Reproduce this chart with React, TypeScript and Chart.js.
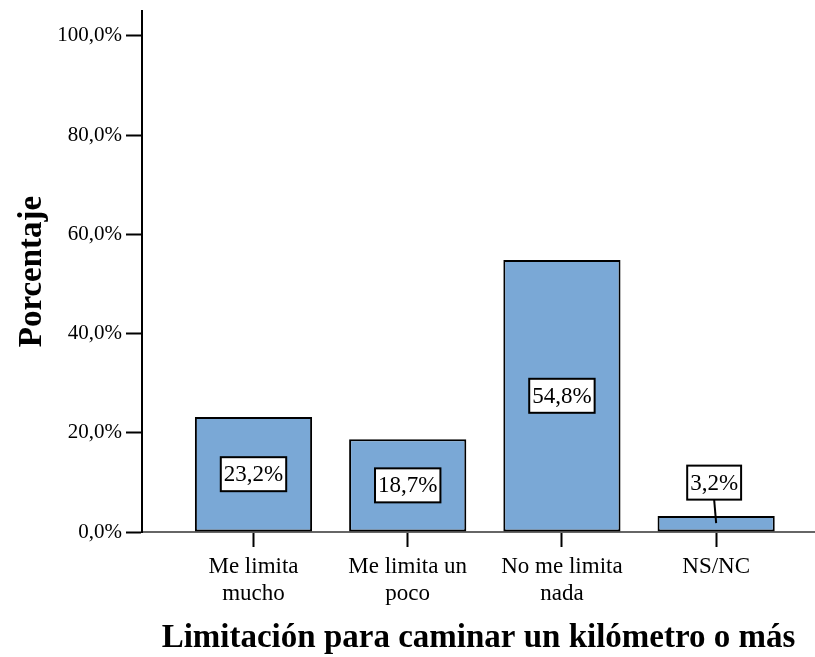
import React, { useEffect, useRef } from 'react';
import { Chart, registerables } from 'chart.js';

Chart.register(...registerables);

const categories: string[][] = [
  ['Me limita', 'mucho'],
  ['Me limita un', 'poco'],
  ['No me limita', 'nada'],
  ['NS/NC'],
];
const percentages: number[] = [23.2, 18.7, 54.8, 3.2];
const yTickValues: number[] = [0, 20, 40, 60, 80, 100];
const xTitle = 'Limitación para caminar un kilómetro o más';
const yTitle = 'Porcentaje';

const SERIF = '"Liberation Serif", "Times New Roman", serif';
const fmt = (v: number) => v.toFixed(1).replace('.', ',') + '%';

const barLabelPlugin = {
  id: 'barLabels',
  afterDatasetsDraw(chart: any) {
    const ctx = chart.ctx;
    const meta = chart.getDatasetMeta(0);
    ctx.save();
    ctx.font = '23px ' + SERIF;
    ctx.textAlign = 'center';
    ctx.textBaseline = 'middle';
    meta.data.forEach((bar: any, i: number) => {
      const text = fmt(percentages[i]);
      const tw = ctx.measureText(text).width;
      const bw = tw + 6;
      const bh = 34;
      const top = Math.min(bar.y, bar.base);
      const h = Math.abs(bar.base - bar.y);
      let cx = bar.x;
      let cy: number;
      if (h > bh + 12) {
        cy = (bar.y + bar.base) / 2;
      } else {
        cx = bar.x - 2;
        cy = top - 33.5;
        ctx.strokeStyle = '#000';
        ctx.lineWidth = 2;
        ctx.beginPath();
        ctx.moveTo(cx, cy + bh / 2);
        ctx.lineTo(bar.x, top + 7);
        ctx.stroke();
      }
      ctx.fillStyle = '#fff';
      ctx.fillRect(cx - bw / 2, cy - bh / 2, bw, bh);
      ctx.strokeStyle = '#000';
      ctx.lineWidth = 2;
      ctx.strokeRect(cx - bw / 2, cy - bh / 2, bw, bh);
      ctx.fillStyle = '#000';
      ctx.fillText(text, cx, cy + 1);
    });
    ctx.restore();
  },
};

export default function App() {
  const ref = useRef<HTMLCanvasElement | null>(null);

  useEffect(() => {
    document.body.style.margin = '0';
    const canvas = ref.current;
    if (!canvas) return;
    const chart = new Chart(canvas, {
      type: 'bar',
      data: {
        datasets: [
          {
            data: percentages.map((v, i) => ({ x: i, y: v })),
            backgroundColor: '#7aa8d6',
            borderColor: '#000',
            borderWidth: 2,
            borderSkipped: false,
            categoryPercentage: 1,
            barPercentage: 0.76,
          } as any,
        ],
      },
      options: {
        responsive: false,
        animation: false,
        events: [],
        layout: { padding: { top: 11, left: 0, right: 0, bottom: 0 } },
        plugins: {
          legend: { display: false },
          tooltip: { enabled: false },
        },
        scales: {
          x: {
            type: 'linear',
            offset: false,
            min: -0.723,
            max: 3.641,
            afterBuildTicks: (s: any) => {
              s.ticks = categories.map((_, i) => ({ value: i }));
            },
            afterFit: (s: any) => {
              s.height = 125;
              s.paddingLeft = 0;
              s.paddingRight = 0;
            },
            ticks: {
              autoSkip: false,
              maxRotation: 0,
              padding: 6,
              color: '#000',
              font: { family: SERIF, size: 23, lineHeight: 1.2 },
              callback: (v: any) => categories[Math.round(Number(v))] ?? '',
            },
            grid: {
              display: true,
              offset: false,
              drawOnChartArea: false,
              drawTicks: true,
              tickLength: 15,
              tickWidth: 2,
              tickColor: '#000',
            },
            border: { display: true, color: '#666', width: 2 },
            title: {
              display: true,
              text: xTitle,
              color: '#000',
              font: { family: SERIF, size: 33, weight: 'bold', lineHeight: 1 },
              padding: { top: 0, bottom: 2 },
            },
          } as any,
          y: {
            type: 'linear',
            min: 0,
            max: 105,
            afterBuildTicks: (s: any) => {
              s.ticks = yTickValues.map((v) => ({ value: v }));
            },
            afterFit: (s: any) => {
              s.width = 142;
              s.paddingTop = 0;
              s.paddingBottom = 0;
            },
            ticks: {
              padding: 4,
              color: '#000',
              font: { family: SERIF, size: 21, lineHeight: 1 },
              callback: (v: any) => fmt(Number(v)),
            },
            grid: {
              display: true,
              drawOnChartArea: false,
              drawTicks: true,
              tickLength: 16,
              tickWidth: 2,
              tickColor: '#000',
            },
            border: { display: true, color: '#000', width: 2 },
            title: {
              display: true,
              text: yTitle,
              color: '#000',
              font: { family: SERIF, size: 33, weight: 'bold', lineHeight: 1 },
              padding: { top: 16, bottom: 0 },
            },
          } as any,
        },
      },
      plugins: [barLabelPlugin],
    });
    return () => chart.destroy();
  }, []);

  return (
    <div style={{ width: 815, height: 657, background: '#fff' }}>
      <canvas ref={ref} width={815} height={657} style={{ display: 'block' }} />
    </div>
  );
}
